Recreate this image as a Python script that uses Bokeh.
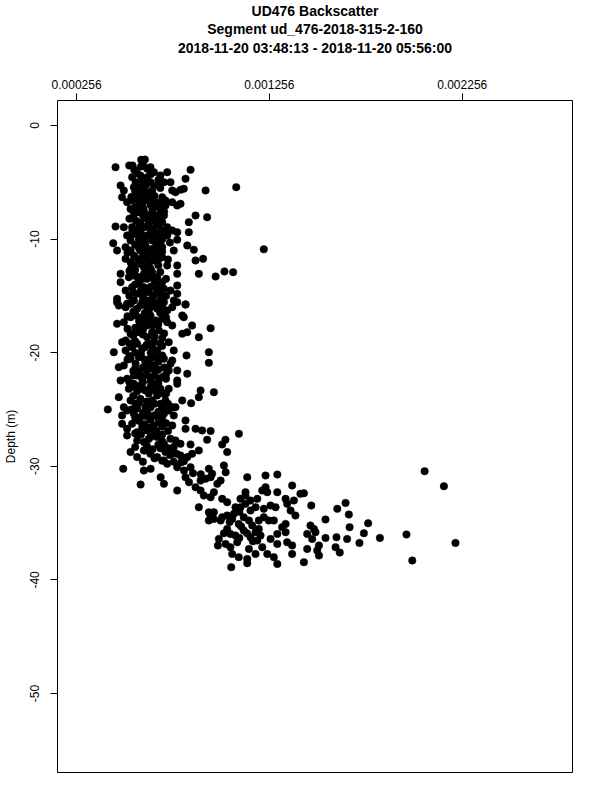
from bokeh.plotting import figure
from bokeh.models import FixedTicker, Title, Range1d
from bokeh.embed import file_html
from bokeh.resources import INLINE

title_lines = ["UD476 Backscatter",
               "Segment ud_476-2018-315-2-160",
               "2018-11-20 03:48:13 - 2018-11-20 05:56:00"]
x_ticks = [0.000256, 0.001256, 0.002256]
x_tick_labels = ["0.000256", "0.001256", "0.002256"]
y_ticks = [0, -10, -20, -30, -40, -50]
y_tick_labels = ["0", "-10", "-20", "-30", "-40", "-50"]
y_label = "Depth (m)"

# depth 3-16 m
bs_upper = [5.91e-4, 6.10e-4, 6.01e-4, 5.29e-4, 5.46e-4, 4.58e-4, 6.22e-4, 6.39e-4, 6.57e-4, 7.26e-4,
            6.91e-4, 8.47e-4, 5.44e-4, 5.62e-4, 5.53e-4, 5.87e-4, 5.96e-4, 6.22e-4, 6.39e-4, 6.57e-4,
            6.13e-4, 5.79e-4, 7.09e-4, 7.43e-4, 8.21e-4, 8.12e-4, 7.52e-4, 7.69e-4, 7.95e-4, 9.25e-4,
            1.084e-3, 4.84e-4, 5.01e-4, 4.92e-4, 5.18e-4, 5.44e-4, 5.70e-4, 5.96e-4, 6.22e-4, 6.48e-4,
            6.39e-4, 6.65e-4, 7.00e-4, 7.17e-4, 7.52e-4, 7.78e-4, 7.95e-4, 7.17e-4, 6.83e-4, 5.36e-4,
            5.53e-4, 5.70e-4, 5.87e-4, 6.05e-4, 6.22e-4, 6.48e-4, 6.65e-4, 6.91e-4, 7.09e-4, 8.73e-4,
            9.33e-4, 5.62e-4, 5.44e-4, 5.87e-4, 6.05e-4, 6.31e-4, 6.57e-4, 6.83e-4, 7.00e-4, 7.26e-4,
            7.52e-4, 4.58e-4, 5.01e-4, 8.38e-4, 8.38e-4, 7.78e-4, 5.18e-4, 5.36e-4, 5.53e-4, 5.79e-4,
            5.96e-4, 6.22e-4, 6.48e-4, 6.65e-4, 6.91e-4, 7.26e-4, 7.78e-4, 4.46e-4, 1.227e-3, 4.66e-4,
            5.10e-4, 5.36e-4, 5.53e-4, 5.87e-4, 6.13e-4, 6.39e-4, 6.57e-4, 6.83e-4, 7.60e-4, 8.30e-4,
            8.64e-4, 5.10e-4, 5.36e-4, 5.53e-4, 5.79e-4, 6.05e-4, 6.31e-4, 6.57e-4, 6.83e-4, 7.00e-4,
            7.26e-4, 7.78e-4, 8.73e-4, 9.12e-4, 4.84e-4, 4.84e-4, 5.27e-4, 5.53e-4, 5.79e-4, 6.05e-4,
            6.22e-4, 6.48e-4, 6.74e-4, 7.00e-4, 7.78e-4, 8.90e-4, 9.77e-4, 1.023e-3, 1.068e-3, 5.10e-4,
            5.44e-4, 5.70e-4, 6.05e-4, 6.31e-4, 6.57e-4, 6.83e-4, 7.09e-4, 7.43e-4, 7.78e-4, 7.78e-4,
            4.66e-4, 4.75e-4, 5.18e-4, 5.53e-4, 5.87e-4, 6.22e-4, 6.39e-4, 6.65e-4, 7.09e-4, 8.21e-4,
            7.60e-4]
depth_upper = [-3.02, -3.00, -3.31, -3.52, -3.52, -3.67, -3.81, -3.67, -4.11, -4.11,
               -4.40, -3.90, -4.55, -4.99, -5.43, -4.40, -4.84, -4.55, -4.99, -5.28,
               -5.28, -5.43, -4.99, -4.99, -4.69, -5.57, -5.72, -5.87, -5.66, -5.72,
               -5.43, -5.28, -5.72, -6.31, -6.75, -6.60, -6.01, -6.16, -6.01, -5.72,
               -6.45, -6.75, -6.31, -6.60, -6.75, -7.04, -6.89, -7.04, -7.19, -7.34,
               -7.78, -7.63, -7.19, -7.48, -7.92, -7.63, -7.92, -7.63, -7.92, -7.92,
               -8.07, -8.36, -8.95, -8.51, -8.95, -8.66, -9.10, -8.80, -9.24, -8.95,
               -9.24, -8.89, -8.95, -8.51, -9.39, -9.39, -9.68, -10.12, -9.54, -9.98,
               -10.42, -9.68, -10.12, -9.83, -10.27, -9.68, -10.06, -10.36, -10.90, -11.00,
               -10.71, -11.00, -11.44, -11.00, -10.56, -11.30, -10.86, -10.71, -11.00, -10.56,
               -10.94, -11.74, -12.03, -12.32, -11.88, -12.47, -12.18, -11.88, -11.74, -11.59,
               -12.32, -12.32, -11.88, -11.74, -13.06, -13.79, -13.35, -13.20, -13.64, -13.06,
               -13.50, -12.91, -13.35, -13.79, -13.06, -13.06, -13.29, -12.85, -12.91, -14.52,
               -14.23, -14.82, -14.23, -14.67, -14.96, -14.08, -14.38, -14.52, -14.08, -14.82,
               -15.26, -15.85, -15.70, -15.40, -15.85, -15.40, -15.99, -15.70, -15.55, -15.76,
               -15.40]

# depth 15-29 m
bs_mid = [4.66e-4, 5.10e-4, 5.36e-4, 5.70e-4, 5.96e-4, 6.22e-4, 6.48e-4, 6.74e-4, 7.00e-4, 7.26e-4,
          7.52e-4, 7.78e-4, 8.21e-4, 8.04e-4, 8.12e-4, 4.66e-4, 5.01e-4, 5.36e-4, 5.62e-4, 5.87e-4,
          6.13e-4, 6.39e-4, 6.65e-4, 7.00e-4, 7.26e-4, 7.52e-4, 8.55e-4, 9.51e-4, 5.10e-4, 5.36e-4,
          5.70e-4, 5.96e-4, 6.22e-4, 6.48e-4, 6.83e-4, 8.04e-4, 8.30e-4, 8.90e-4, 4.49e-4, 4.92e-4,
          5.10e-4, 5.44e-4, 5.70e-4, 5.96e-4, 6.31e-4, 6.57e-4, 6.74e-4, 7.34e-4, 7.60e-4, 8.26e-4,
          9.42e-4, 4.75e-4, 5.01e-4, 5.36e-4, 5.62e-4, 5.79e-4, 6.13e-4, 6.39e-4, 6.57e-4, 7.00e-4,
          7.09e-4, 7.52e-4, 7.43e-4, 7.34e-4, 7.78e-4, 9.42e-4, 4.84e-4, 5.18e-4, 5.53e-4, 5.79e-4,
          5.96e-4, 6.22e-4, 6.39e-4, 6.83e-4, 7.00e-4, 7.78e-4, 7.78e-4, 8.30e-4, 5.27e-4, 5.53e-4,
          5.87e-4, 6.13e-4, 6.39e-4, 6.57e-4, 6.91e-4, 7.09e-4, 7.34e-4, 8.99e-4, 9.68e-4, 8.90e-4,
          4.75e-4, 5.01e-4, 5.36e-4, 5.62e-4, 5.87e-4, 6.13e-4, 6.48e-4, 6.74e-4, 6.91e-4, 7.17e-4,
          7.52e-4, 7.69e-4, 8.04e-4, 8.50e-4, 4.18e-4, 4.92e-4, 5.18e-4, 5.53e-4, 5.87e-4, 6.22e-4,
          6.57e-4, 6.83e-4, 7.09e-4, 7.34e-4, 7.60e-4, 8.21e-4, 4.92e-4, 5.18e-4, 5.44e-4, 5.70e-4,
          5.96e-4, 6.22e-4, 6.57e-4, 6.83e-4, 7.52e-4, 8.21e-4, 8.73e-4, 9.07e-4, 9.51e-4, 1.098e-3,
          5.18e-4, 5.70e-4, 6.05e-4, 6.39e-4, 6.74e-4, 7.09e-4, 7.43e-4, 7.69e-4, 7.95e-4, 8.47e-4,
          9.33e-4, 1.028e-3, 1.011e-3, 5.36e-4, 5.70e-4, 6.05e-4, 6.39e-4, 6.74e-4, 7.17e-4, 7.52e-4,
          7.95e-4, 8.30e-4, 8.55e-4, 8.90e-4, 1.037e-3]
depth_mid = [-15.55, -15.99, -15.69, -16.13, -15.55, -15.99, -15.69, -16.13, -15.84, -16.28,
             -15.99, -15.55, -15.75, -16.72, -16.87, -17.45, -17.31, -16.87, -16.72, -17.45,
             -17.01, -16.72, -17.16, -17.01, -17.31, -17.60, -17.60, -17.84, -18.92, -18.33,
             -18.19, -17.89, -18.63, -18.19, -18.04, -18.33, -18.19, -18.63, -19.95, -19.07,
             -19.80, -19.51, -19.21, -19.65, -19.21, -19.07, -19.80, -19.07, -19.80, -20.24,
             -19.95, -21.27, -21.12, -20.53, -20.97, -20.39, -20.83, -20.53, -21.12, -20.24,
             -20.53, -20.68, -20.97, -21.56, -21.56, -20.89, -22.44, -22.29, -22.00, -21.71,
             -22.29, -21.56, -22.15, -22.29, -22.15, -22.44, -22.74, -21.85, -23.18, -22.74,
             -22.88, -23.32, -23.03, -22.74, -23.18, -23.62, -23.18, -23.32, -23.47, -23.91,
             -23.91, -24.79, -24.20, -24.50, -24.06, -24.79, -24.20, -23.76, -24.50, -24.20,
             -24.79, -24.79, -24.20, -24.44, -24.99, -25.52, -25.08, -25.38, -25.67, -25.23,
             -25.52, -25.82, -25.38, -25.08, -25.52, -25.96, -26.26, -26.70, -26.26, -26.99,
             -26.55, -26.84, -26.40, -26.11, -26.40, -26.70, -26.70, -26.84, -26.90, -27.14,
             -27.28, -27.72, -27.87, -27.43, -27.43, -28.02, -27.58, -27.72, -28.02, -28.07,
             -27.66, -27.66, -28.07, -28.75, -29.19, -28.60, -28.90, -29.19, -28.75, -28.90,
             -29.04, -29.19, -28.90, -28.60, -28.75]

# dense core readings, depth 4-30 m
bs_core = [5.70e-4, 6.05e-4, 6.80e-4, 5.60e-4, 6.00e-4, 6.30e-4, 6.90e-4, 5.40e-4, 6.10e-4, 6.60e-4,
           5.80e-4, 6.40e-4, 7.00e-4, 5.60e-4, 6.00e-4, 6.80e-4, 5.30e-4, 6.20e-4, 6.50e-4, 7.00e-4,
           5.70e-4, 6.40e-4, 5.90e-4, 6.80e-4, 7.20e-4, 5.60e-4, 6.10e-4, 6.70e-4, 7.00e-4, 7.40e-4,
           5.20e-4, 6.00e-4, 6.20e-4, 6.70e-4, 7.00e-4, 5.60e-4, 5.90e-4, 6.40e-4, 6.80e-4, 5.30e-4,
           6.00e-4, 6.60e-4, 7.20e-4, 5.60e-4, 5.90e-4, 6.40e-4, 6.90e-4, 5.30e-4, 6.00e-4, 6.50e-4,
           7.20e-4, 5.50e-4, 6.10e-4, 6.90e-4, 5.20e-4, 5.80e-4, 6.40e-4, 7.20e-4, 5.60e-4, 6.20e-4,
           6.80e-4, 5.50e-4, 6.00e-4, 6.60e-4, 7.10e-4, 5.30e-4, 6.10e-4, 6.50e-4, 7.00e-4, 5.60e-4,
           5.90e-4, 6.40e-4, 6.80e-4, 5.20e-4, 6.00e-4, 6.30e-4, 6.80e-4, 5.50e-4, 6.10e-4, 6.60e-4,
           7.20e-4, 5.30e-4, 6.00e-4, 6.80e-4, 5.70e-4, 6.30e-4, 6.60e-4, 7.20e-4, 5.50e-4, 6.20e-4,
           7.00e-4, 5.70e-4, 6.40e-4, 6.00e-4, 6.80e-4, 6.40e-4, 7.00e-4, 5.60e-4, 6.10e-4, 6.40e-4,
           7.00e-4, 7.30e-4, 5.90e-4, 6.60e-4, 7.00e-4, 6.20e-4, 6.80e-4, 7.30e-4, 7.60e-4, 6.50e-4,
           7.00e-4, 7.60e-4, 6.00e-4, 5.60e-4,
           5.55e-4, 5.90e-4, 6.40e-4, 6.20e-4, 6.80e-4, 5.75e-4, 6.25e-4, 6.90e-4, 6.00e-4, 6.50e-4,
           5.60e-4, 7.10e-4, 5.80e-4, 6.20e-4, 6.70e-4, 5.45e-4, 6.10e-4, 6.50e-4, 7.00e-4, 5.80e-4,
           6.40e-4, 7.00e-4, 5.60e-4, 6.10e-4, 6.50e-4, 7.30e-4, 5.40e-4, 6.20e-4, 6.90e-4, 5.70e-4,
           6.40e-4, 5.80e-4, 6.20e-4, 6.70e-4, 5.50e-4, 6.10e-4, 6.90e-4, 5.60e-4, 6.30e-4, 7.00e-4,
           5.90e-4, 6.50e-4, 5.20e-4, 6.00e-4, 7.00e-4, 5.60e-4, 6.20e-4, 6.90e-4, 5.30e-4, 6.10e-4,
           6.70e-4, 5.60e-4, 6.50e-4, 7.10e-4, 5.70e-4, 6.40e-4, 7.20e-4, 5.50e-4, 6.00e-4, 6.80e-4,
           5.80e-4, 6.60e-4, 7.30e-4, 5.40e-4, 6.20e-4, 7.00e-4, 5.80e-4, 6.70e-4, 7.20e-4, 5.60e-4,
           6.30e-4, 7.00e-4, 6.10e-4, 6.90e-4, 7.40e-4, 6.60e-4]
depth_core = [-4.20, -4.70, -4.80, -5.80, -5.60, -5.90, -5.50, -6.30, -6.60, -6.20,
              -6.90, -7.00, -7.40, -7.20, -7.90, -8.10, -8.20, -8.20, -8.30, -8.50,
              -9.20, -9.40, -9.50, -9.50, -9.40, -10.50, -10.20, -10.50, -10.00, -10.30,
              -11.20, -11.50, -11.80, -11.30, -11.10, -12.70, -12.20, -12.60, -12.30, -12.80,
              -13.50, -13.70, -13.50, -14.00, -14.50, -14.20, -14.80, -15.00, -15.10, -15.20,
              -15.00, -16.40, -16.50, -16.50, -16.80, -17.20, -17.30, -16.90, -17.80, -17.60,
              -17.50, -18.50, -18.40, -18.60, -18.30, -19.20, -19.50, -19.60, -19.40, -20.00,
              -20.10, -20.00, -20.80, -20.60, -21.30, -21.00, -21.50, -21.60, -22.00, -22.00,
              -21.90, -22.60, -22.60, -22.70, -23.40, -23.60, -23.30, -23.60, -23.80, -24.30,
              -24.80, -24.90, -24.80, -25.30, -25.20, -25.90, -25.90, -25.70, -26.30, -26.60,
              -26.50, -26.90, -27.20, -27.00, -27.20, -28.20, -28.10, -28.40, -28.30, -28.50,
              -29.50, -29.60, -29.60, -28.30,
              -3.90, -3.60, -4.30, -5.10, -5.20, -6.50, -6.40, -6.80, -7.20, -7.30,
              -7.70, -7.60, -8.60, -8.90, -8.60, -9.30, -9.80, -9.90, -9.80, -10.80,
              -10.90, -10.70, -11.60, -11.20, -11.60, -11.80, -12.50, -12.90, -12.90, -13.30,
              -13.20, -13.90, -14.60, -14.40, -14.70, -15.60, -15.40, -16.30, -16.40, -16.50,
              -16.90, -17.60, -17.90, -18.00, -18.70, -19.00, -19.30, -19.20, -20.30, -20.60,
              -20.40, -21.40, -21.40, -21.30, -22.00, -22.50, -22.30, -23.00, -23.20, -23.50,
              -24.40, -24.50, -24.50, -25.00, -25.60, -25.50, -26.00, -26.90, -26.20, -27.10,
              -27.60, -27.80, -28.60, -28.40, -29.00, -29.30]

# depth 29-39 m
bs_lower = [4.98e-4, 7.75e-4, 7.99e-4, 8.13e-4, 6.05e-4, 6.40e-4, 7.09e-4, 7.26e-4, 7.78e-4, 8.13e-4,
            8.47e-4, 9.42e-4, 9.59e-4, 1.029e-3, 1.020e-3, 1.141e-3, 1.236e-3, 1.297e-3, 6.92e-4, 7.09e-4,
            8.21e-4, 8.39e-4, 8.99e-4, 9.25e-4, 9.51e-4, 9.86e-4, 1.003e-3, 5.88e-4, 7.78e-4, 1.132e-3,
            1.236e-3, 1.297e-3, 1.374e-3, 1.417e-3, 8.73e-4, 8.99e-4, 9.16e-4, 9.51e-4, 9.68e-4, 1.011e-3,
            1.037e-3, 1.106e-3, 1.132e-3, 1.158e-3, 1.193e-3, 1.219e-3, 1.245e-3, 1.340e-3, 1.383e-3, 1.435e-3,
            8.90e-4, 9.42e-4, 9.51e-4, 9.68e-4, 1.011e-3, 1.037e-3, 1.072e-3, 1.106e-3, 1.132e-3, 1.158e-3,
            1.184e-3, 1.227e-3, 1.262e-3, 1.288e-3, 1.348e-3, 1.366e-3, 1.391e-3, 9.42e-4, 9.68e-4, 1.003e-3,
            1.063e-3, 1.097e-3, 1.123e-3, 1.150e-3, 1.167e-3, 1.201e-3, 1.227e-3, 1.253e-3, 1.279e-3, 1.322e-3,
            1.340e-3, 1.037e-3, 1.054e-3, 1.080e-3, 1.123e-3, 1.158e-3, 1.184e-3, 1.201e-3, 1.210e-3, 1.297e-3,
            1.340e-3, 1.452e-3, 9.94e-4, 9.89e-4, 1.029e-3, 1.054e-3, 1.089e-3, 1.150e-3, 1.193e-3, 1.219e-3,
            1.262e-3, 1.297e-3, 1.348e-3, 1.374e-3, 1.452e-3, 1.063e-3, 1.097e-3, 1.141e-3, 1.184e-3, 1.245e-3,
            1.279e-3, 1.297e-3, 1.374e-3, 1.435e-3, 1.141e-3, 1.058e-3,
            1.080e-3, 1.100e-3, 1.050e-3, 1.110e-3, 1.140e-3, 1.170e-3, 1.020e-3, 1.100e-3, 8.60e-4, 9.00e-4]
depth_lower = [-30.22, -28.90, -29.64, -29.55, -30.37, -30.22, -29.49, -29.78, -30.08, -30.37,
               -30.08, -30.22, -30.66, -30.52, -29.93, -30.96, -30.81, -30.72, -30.96, -31.54,
               -30.96, -31.40, -31.25, -31.10, -30.96, -31.54, -31.25, -31.60, -32.13, -32.28,
               -31.84, -32.28, -31.69, -32.42, -31.84, -32.13, -32.57, -32.72, -32.28, -32.86,
               -33.16, -32.86, -32.57, -33.01, -32.86, -32.13, -32.28, -32.86, -33.01, -32.37,
               -33.60, -34.04, -34.33, -34.04, -34.48, -34.33, -34.18, -33.60, -33.30, -33.89,
               -33.60, -33.74, -33.45, -33.60, -33.30, -33.89, -34.33, -34.77, -34.63, -34.77,
               -34.63, -35.07, -34.48, -34.77, -35.21, -34.77, -34.48, -34.77, -34.77, -35.36,
               -35.07, -35.51, -35.95, -36.09, -35.65, -36.24, -35.80, -35.51, -36.09, -35.95,
               -35.80, -35.95, -36.39, -36.97, -36.83, -37.12, -36.68, -37.27, -36.53, -37.12,
               -36.39, -36.83, -36.68, -36.97, -37.27, -37.71, -38.00, -38.15, -37.71, -37.71,
               -38.00, -38.59, -37.71, -38.44, -38.53, -38.88,
               -33.60, -34.00, -34.90, -35.30, -35.90, -36.60, -35.90, -36.30, -30.60, -30.70]

# high-backscatter tail, depth 30-38 m
bs_tail = [1.473e-3, 1.469e-3, 1.487e-3, 1.495e-3, 1.478e-3, 1.547e-3, 1.547e-3, 1.513e-3, 1.504e-3, 1.513e-3,
           1.608e-3, 1.651e-3, 1.668e-3, 1.672e-3, 1.604e-3, 1.659e-3, 1.599e-3, 1.621e-3, 1.723e-3, 1.746e-3,
           1.768e-3, 1.829e-3, 1.967e-3, 1.997e-3, 2.061e-3, 2.161e-3, 2.221e-3]
depth_tail = [-33.45, -35.21, -35.51, -35.80, -36.39, -34.68, -36.30, -36.97, -37.41, -37.85,
              -33.74, -33.22, -34.24, -35.36, -36.24, -36.39, -37.12, -37.59, -36.74, -35.89,
              -35.01, -36.30, -36.00, -38.29, -30.43, -31.75, -36.74]

bs_all = bs_upper + bs_mid + bs_core + bs_lower + bs_tail
depth_all = depth_upper + depth_mid + depth_core + depth_lower + depth_tail

p = figure(width=592, height=792,
           x_range=Range1d(0.000157, 0.002828), y_range=Range1d(-56.95, 2.2),
           x_axis_location="above", y_axis_location="left",
           output_backend="svg", toolbar_location=None, title=None,
           min_border_left=57, min_border_right=20, min_border_top=100, min_border_bottom=20)

p.background_fill_color = "white"
p.border_fill_color = "white"
p.outline_line_color = "black"
p.outline_line_width = 1
p.outline_line_alpha = 1
p.xgrid.visible = False
p.ygrid.visible = False

for ax in (p.xaxis[0], p.yaxis[0]):
    ax.axis_line_color = None
    ax.major_tick_out = 7
    ax.major_tick_in = 0
    ax.major_tick_line_color = "black"
    ax.minor_tick_line_color = None
    ax.major_label_text_font = "Liberation Sans"
    ax.major_label_text_font_size = "12px"
    ax.major_label_text_color = "black"

p.xaxis.ticker = FixedTicker(ticks=x_ticks)
p.xaxis.major_label_overrides = dict(zip(x_ticks, x_tick_labels))
p.xaxis.major_label_standoff = 5
# third title line sits directly above the top axis
p.xaxis.axis_label = title_lines[2]
p.xaxis.axis_label_text_font = "Liberation Sans"
p.xaxis.axis_label_text_font_size = "14px"
p.xaxis.axis_label_text_font_style = "bold"
p.xaxis.axis_label_text_color = "black"
p.xaxis.axis_label_standoff = 21

p.yaxis.ticker = FixedTicker(ticks=y_ticks)
p.yaxis.major_label_overrides = dict(zip(y_ticks, y_tick_labels))
p.yaxis.major_label_orientation = "vertical"
p.yaxis.major_label_standoff = 11
p.yaxis.axis_label = y_label
p.yaxis.axis_label_text_font = "Liberation Sans"
p.yaxis.axis_label_text_font_size = "12px"
p.yaxis.axis_label_text_font_style = "normal"
p.yaxis.axis_label_text_color = "black"
p.yaxis.axis_label_standoff = 10

# first two title lines: added nearest-first
for line in reversed(title_lines[:2]):
    p.add_layout(Title(text=line, align="center", text_font="Liberation Sans",
                       text_font_size="14px", text_font_style="bold", text_color="black",
                       standoff=0), "above")

p.scatter(x=bs_all, y=depth_all, size=7.5, fill_color="black", line_color="black", line_width=0.5)

open("out.html", "w").write(file_html(p, INLINE))
